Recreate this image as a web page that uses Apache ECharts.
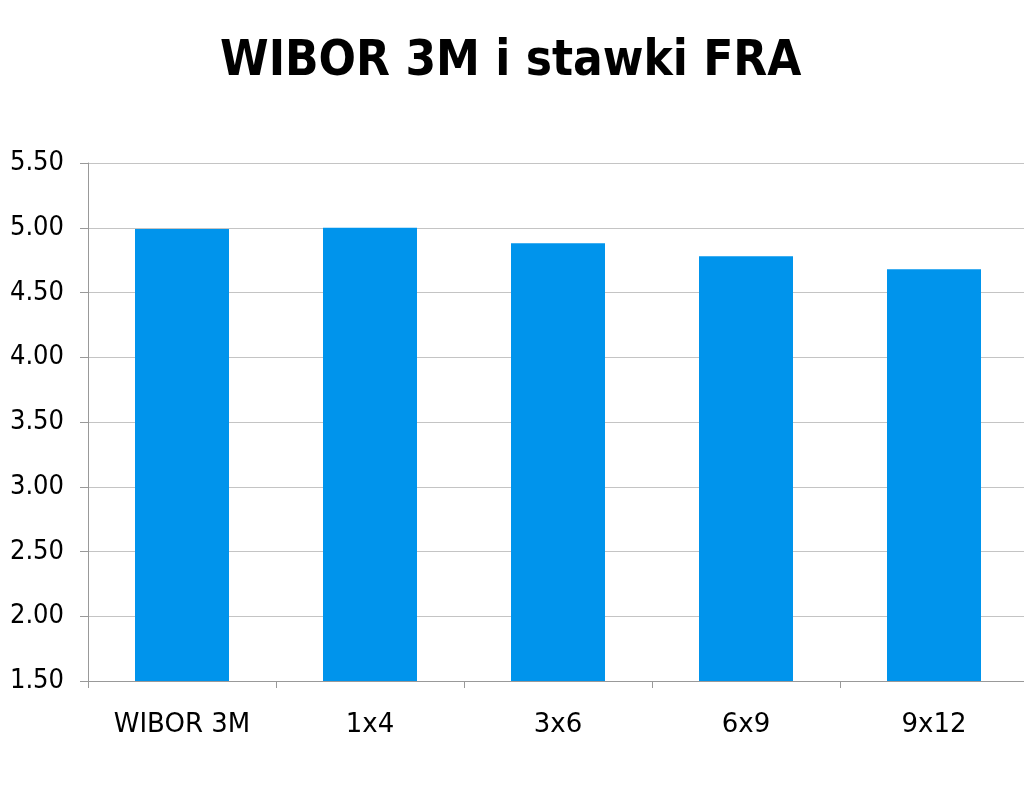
<!DOCTYPE html>
<html><head><meta charset="utf-8">
<script src="https://cdn.jsdelivr.net/npm/echarts@6/dist/echarts.min.js"></script>
<style>html,body{margin:0;padding:0;background:#fff;overflow:hidden}#c{width:1028px;height:791px}</style>
</head><body><div id="c"></div>
<script>
const categories = ['WIBOR 3M', '1x4', '3x6', '6x9', '9x12'];
const values = [4.99, 5.00, 4.88, 4.78, 4.68];
const yTicks = [1.5, 5.5, 0.5];
const chart = echarts.init(document.getElementById('c'));
chart.setOption({
  animation: false,
  title: {text: 'WIBOR 3M i stawki FRA', left: 215, top: 33,
    textStyle: {fontFamily: 'DejaVu Sans Condensed', fontWeight: 'bold', fontSize: 49, color: '#000'}},
  grid: {left: 88, right: 0, top: 163, bottom: 110},
  xAxis: {type: 'category', data: categories,
    axisLine: {lineStyle: {color: '#999', width: 1}},
    axisTick: {show: true, length: 7, lineStyle: {color: '#999'}},
    axisLabel: {fontFamily: 'DejaVu Sans', fontSize: 26, color: '#000', margin: 31}},
  yAxis: {type: 'value', min: yTicks[0], max: yTicks[1], interval: yTicks[2],
    axisLine: {show: true, lineStyle: {color: '#999'}},
    axisTick: {show: true, length: 8, lineStyle: {color: '#999'}},
    splitLine: {lineStyle: {color: '#c4c4c4'}},
    axisLabel: {fontFamily: 'DejaVu Sans Condensed', fontSize: 27, color: '#000', margin: 24,
      lineHeight: 30, padding: [5, 0, 0, 0], formatter: v => v.toFixed(2)}},
  series: [{type: 'bar', data: values, barCategoryGap: '50%', itemStyle: {color: '#0094EC'}}]
});
</script></body></html>
